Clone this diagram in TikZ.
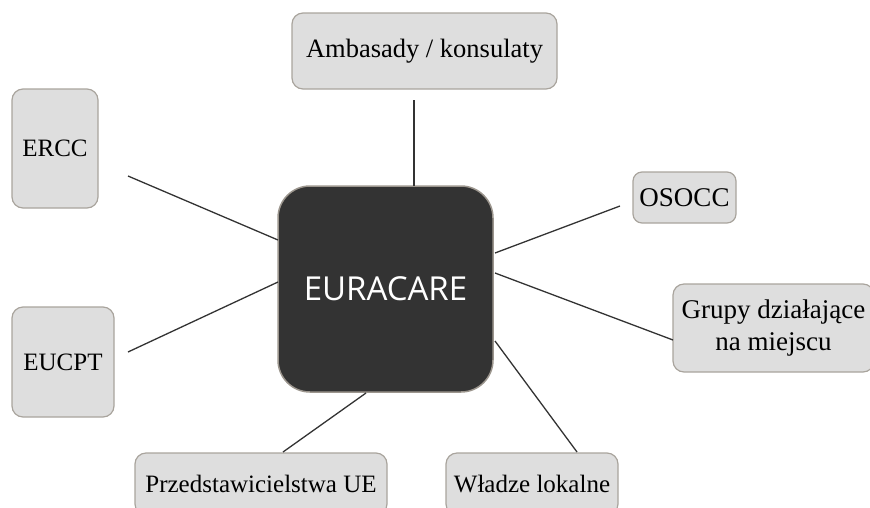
\documentclass[tikz,border=0pt]{standalone}
\usepackage{fontspec}
\setmainfont{Liberation Serif}
\newfontfamily\eurafont{Open Sans}
\definecolor{boxfill}{HTML}{DEDEDE}
\definecolor{boxline}{HTML}{A9A49D}
\definecolor{darkfill}{HTML}{333333}
\definecolor{darkline}{HTML}{9C968E}
\definecolor{conn}{HTML}{333333}
\tikzset{
  leaf/.style={draw=boxline, fill=boxfill, line width=1.2pt, rounded corners=11pt,
    inner sep=0pt, align=center, font=\fontsize{25}{30}\selectfont, text=black},
  hub/.style={draw=darkline, fill=darkfill, line width=1.5pt, rounded corners=32pt,
    inner sep=0pt, align=center, font=\eurafont\fontsize{33}{36}\selectfont, text=white},
  link/.style={draw=conn, line width=1.3pt}
}
\begin{document}
\begin{tikzpicture}[x=1pt,y=-1pt]
\useasboundingbox (0,0) rectangle (870,507);
\node[hub, minimum width=215pt, minimum height=206pt] (eura) at (385.5,289) {EURACARE};
\node[leaf, minimum width=265pt, minimum height=76pt, font=\fontsize{26.5}{30}\selectfont] (amb) at (424.5,51) {Ambasady / konsulaty};
\node[leaf, minimum width=86pt, minimum height=119pt] (ercc) at (55,148.5) {ERCC};
\node[leaf, minimum width=103pt, minimum height=51pt, rounded corners=9pt, font=\fontsize{27}{30}\selectfont] (osocc) at (684.5,197.5) {OSOCC};
\node[leaf, minimum width=201pt, minimum height=88pt, font=\fontsize{27}{32}\selectfont] (grupy) at (773.5,328) {Grupy działające\\na miejscu};
\node[leaf, minimum width=102pt, minimum height=110pt] (eucpt) at (63,362) {EUCPT};
\node[leaf, minimum width=252pt, minimum height=62pt] (przed) at (261,484) {Przedstawicielstwa UE};
\node[leaf, minimum width=172pt, minimum height=62pt] (wladze) at (532,484) {Władze lokalne};
% connector ends
\coordinate (a1) at (414,100);  \coordinate (a2) at (414,186);
\coordinate (e1) at (128,176);  \coordinate (e2) at (278,240);
\coordinate (u1) at (128,352);  \coordinate (u2) at (278,282);
\coordinate (o1) at (620,206);  \coordinate (o2) at (495,253);
\coordinate (g1) at (673,340);  \coordinate (g2) at (495,273);
\coordinate (w1) at (577,452);  \coordinate (w2) at (495,341);
\coordinate (p1) at (283,452);  \coordinate (p2) at (366,393);
\draw[link] (a1) -- (a2);
\draw[link] (e1) -- (e2);
\draw[link] (u1) -- (u2);
\draw[link] (o1) -- (o2);
\draw[link] (g1) -- (g2);
\draw[link] (w1) -- (w2);
\draw[link] (p1) -- (p2);
\end{tikzpicture}
\end{document}
